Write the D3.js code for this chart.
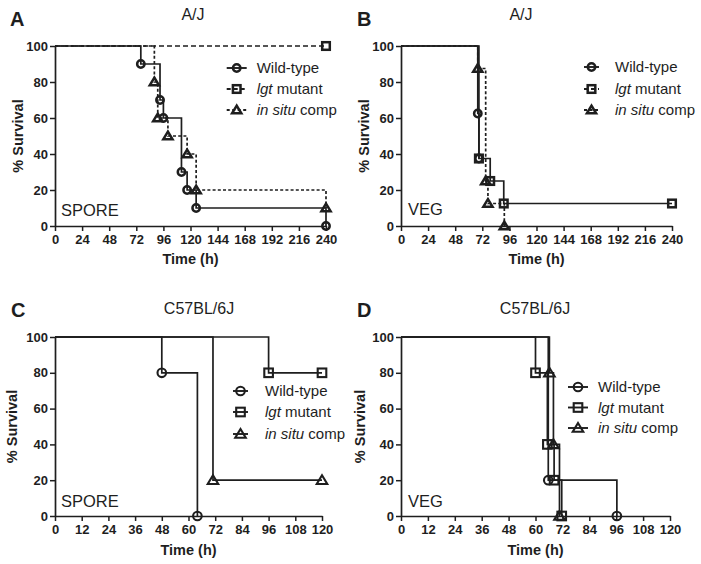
<!DOCTYPE html>
<html><head><meta charset="utf-8">
<script src="https://cdn.jsdelivr.net/npm/d3@7"></script>
<style>body{margin:0;background:#fff}svg{display:block}</style>
</head><body>
<svg id="c" width="701" height="564"></svg>
<script>
// ---- data (time h, % survival) ----
const seriesNames = ["Wild-type", "lgt mutant", "in situ comp"];
const yTicks = [0, 20, 40, 60, 80, 100];
const xTicksLong = [0, 24, 48, 72, 96, 120, 144, 168, 192, 216, 240];
const xTicksShort = [0, 12, 24, 36, 48, 60, 72, 84, 96, 108, 120];

const A_wildtype = [[0,100],[76,90],[93,70],[96,60],[112,30],[117,20],[125,10],[240,0]];
const A_lgt      = [[0,100],[240,100]];
const A_insitu   = [[0,100],[88,80],[91,60],[100,50],[117,40],[125,20],[240,10]];

const B_wildtype = [[0,100],[68,62.5],[69,37.5]];
const B_lgt      = [[0,100],[69,37.5],[79,25],[91,12.5],[240,12.5]];
const B_insitu   = [[0,100],[68,87.5],[75,25],[77,12.5],[91.5,0]];

const C_wildtype = [[0,100],[48,80],[64,0]];
const C_lgt      = [[0,100],[96,80],[120,80]];
const C_insitu   = [[0,100],[71,20],[120,20]];

const D_wildtype = [[0,100],[65.7,20],[96.3,0]];
const D_lgt      = [[0,100],[60,80],[65.3,40],[68.3,20],[71.7,0]];
const D_insitu   = [[0,100],[66.2,80],[68,40],[70.7,0]];

const panelLetters = ["A","B","C","D"];
const panelTitles = ["A/J","A/J","C57BL/6J","C57BL/6J"];
const panelTags = ["SPORE","VEG","SPORE","VEG"];

// ---- layout ----
const FONT = "'Liberation Sans', Arial, Helvetica, sans-serif";
const INK = "#1e1e1e";
const svg = d3.select("#c");

const panels = [
  {letter:0, xr:[55,326], yr:[226,46], xmax:240, ticks:xTicksLong, data:[A_wildtype,A_lgt,A_insitu],
   dash:[null,"5,3","3,2.2"], legendDash:[null,"4,3","3,2.5"],
   lx:[226.7,246.7], ltx:256.7, ly:[68,89,110], letterPos:[10,26], titlePos:[193,19.5], tagPos:[61,216],
   ylab:18, xlabY:263.5, big:false},
  {letter:1, xr:[401,672], yr:[226,46], xmax:240, ticks:xTicksLong, data:[B_wildtype,B_lgt,B_insitu],
   dash:[null,null,"3,2.2"], legendDash:[null,"4,3","3,2.5"],
   lx:[584,599], ltx:615, ly:[67,89,110], letterPos:[357,26], titlePos:[521,19.5], tagPos:[408,215],
   ylab:364, xlabY:263.5, big:false},
  {letter:2, xr:[55,322], yr:[516,337], xmax:120, ticks:xTicksShort, data:[C_wildtype,C_lgt,C_insitu],
   dash:[null,null,null], legendDash:[null,null,null],
   lx:[233,248], ltx:265, ly:[391,412,434], letterPos:[11,317], titlePos:[199,313.5], tagPos:[61,507],
   ylab:12, xlabY:555, big:true},
  {letter:3, xr:[401,670], yr:[516,337], xmax:120, ticks:xTicksShort, data:[D_wildtype,D_lgt,D_insitu],
   dash:[null,null,null], legendDash:[null,null,null],
   lx:[568,588], ltx:598, ly:[387,407.5,428], letterPos:[357,317], titlePos:[535,313.5], tagPos:[408,507],
   ylab:360, xlabY:555, big:true}
];

function drawMarker(g, kind, x, y, big) {
  const sw = big ? 2.1 : 2.5;
  if (kind === 0) {
    g.append("circle").attr("cx", x).attr("cy", y).attr("r", big ? 4.3 : 3.7)
      .attr("fill", "none").attr("stroke", INK).attr("stroke-width", sw);
  } else if (kind === 1) {
    const h = big ? 4.3 : 3.8;
    g.append("rect").attr("x", x - h).attr("y", y - h).attr("width", 2*h).attr("height", 2*h)
      .attr("fill", "none").attr("stroke", INK).attr("stroke-width", sw);
  } else {
    const h = big ? 5 : 4.4;
    const p = `M${x},${y - h}L${x + h*1.05},${y + h*0.75}L${x - h*1.05},${y + h*0.75}Z`;
    g.append("path").attr("d", p).attr("fill", "none").attr("stroke", INK)
      .attr("stroke-width", sw).attr("stroke-linejoin", "miter");
  }
}

panels.forEach(P => {
  const g = svg.append("g");
  const x = d3.scaleLinear().domain([0, P.xmax]).range(P.xr);
  const y = d3.scaleLinear().domain([0, 100]).range(P.yr);

  const xa = g.append("g").attr("transform", `translate(0,${P.yr[0]})`)
    .call(d3.axisBottom(x).tickValues(P.ticks).tickSize(5).tickPadding(4).tickSizeOuter(0));
  const ya = g.append("g").attr("transform", `translate(${P.xr[0]},0)`)
    .call(d3.axisLeft(y).tickValues(yTicks).tickSize(5).tickPadding(2).tickSizeOuter(0));
  [xa, ya].forEach(a => {
    a.select(".domain").attr("stroke", INK).attr("stroke-width", 1.7);
    a.selectAll(".tick line").attr("stroke", INK).attr("stroke-width", 1.5);
    a.selectAll(".tick text").attr("fill", INK).attr("font-family", FONT)
      .attr("font-size", 13).attr("font-weight", "bold");
  });

  const line = d3.line().x(d => x(d[0])).y(d => y(d[1])).curve(d3.curveStepAfter);
  P.data.forEach((ser, i) => {
    g.append("path").attr("d", line(ser)).attr("fill", "none").attr("stroke", INK)
      .attr("stroke-width", 1.7).attr("stroke-dasharray", P.dash[i]);
  });
  P.data.forEach((ser, i) => {
    ser.slice(1).forEach(d => drawMarker(g, i, x(d[0]), y(d[1]), P.big));
  });

  seriesNames.forEach((nm, i) => {
    const cy = P.ly[i];
    const cx = (P.lx[0] + P.lx[1]) / 2;
    g.append("line").attr("x1", P.lx[0]).attr("x2", P.lx[1]).attr("y1", cy).attr("y2", cy)
      .attr("stroke", INK).attr("stroke-width", 1.9).attr("stroke-dasharray", P.legendDash[i]);
    drawMarker(g, i, cx, cy, P.big);
    const t = g.append("text").attr("x", P.ltx).attr("y", cy + 5.3).attr("font-family", FONT)
      .attr("font-size", 15).attr("fill", INK);
    if (i === 0) t.text(nm);
    else if (i === 1) { t.append("tspan").attr("font-style", "italic").text("lgt"); t.append("tspan").text(" mutant"); }
    else { t.append("tspan").attr("font-style", "italic").text("in situ"); t.append("tspan").text(" comp"); }
  });

  g.append("text").attr("x", P.letterPos[0]).attr("y", P.letterPos[1]).attr("font-family", FONT)
    .attr("font-size", 20).attr("font-weight", "bold").attr("fill", INK).text(panelLetters[P.letter]);
  g.append("text").attr("x", P.titlePos[0]).attr("y", P.titlePos[1]).attr("text-anchor", "middle")
    .attr("font-family", FONT).attr("font-size", 16).attr("fill", INK).text(panelTitles[P.letter]);
  g.append("text").attr("x", P.tagPos[0]).attr("y", P.tagPos[1]).attr("font-family", FONT)
    .attr("font-size", 16.5).attr("fill", INK).text(panelTags[P.letter]);
  g.append("text").attr("x", (P.xr[0] + P.xr[1]) / 2).attr("y", P.xlabY).attr("text-anchor", "middle")
    .attr("font-family", FONT).attr("font-size", 14.5).attr("font-weight", "bold").attr("fill", INK).text("Time (h)");
  const ymid = (P.yr[0] + P.yr[1]) / 2;
  g.append("text").attr("transform", `translate(${P.ylab + 5},${ymid}) rotate(-90)`).attr("text-anchor", "middle")
    .attr("font-family", FONT).attr("font-size", 14.5).attr("font-weight", "bold").attr("fill", INK).text("% Survival");
});
</script>
</body></html>
